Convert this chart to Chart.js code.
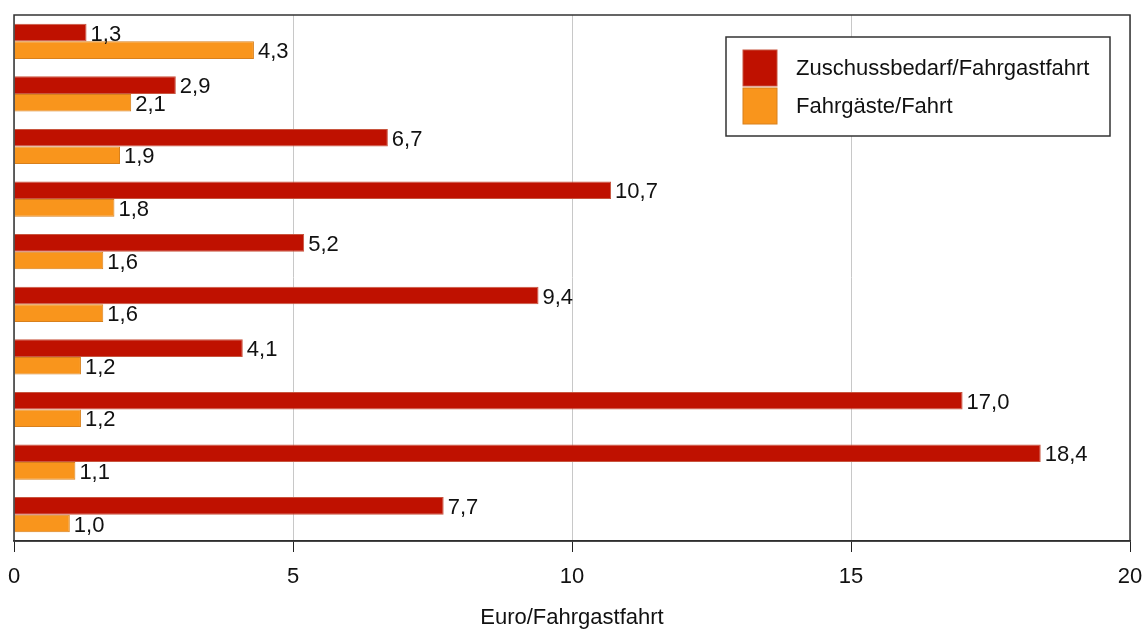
<!DOCTYPE html>
<html>
<head>
<meta charset="utf-8">
<script src="https://cdn.jsdelivr.net/npm/chart.js@4/dist/chart.umd.min.js"></script>
<style>
  html, body { margin: 0; padding: 0; background: #fff; }
  #wrap { width: 1146px; height: 631px; }
</style>
</head>
<body>
<div id="wrap"><canvas id="myChart"></canvas></div>
<script>
var categories = ["1", "2", "3", "4", "5", "6", "7", "8", "9", "10"];
var zuschuss = [1.3, 2.9, 6.7, 10.7, 5.2, 9.4, 4.1, 17.0, 18.4, 7.7];
var fahrgaeste = [4.3, 2.1, 1.9, 1.8, 1.6, 1.6, 1.2, 1.2, 1.1, 1.0];
var xTicks = [0, 5, 10, 15, 20];
var seriesNames = ["Zuschussbedarf/Fahrgastfahrt", "Fahrgäste/Fahrt"];
var barColors = ["#bf1100", "#f9951c"];
var borderColors = ["#c8553f", "#d8801c"];

var FONT = "'Liberation Sans', Arial, sans-serif";

// value labels at the end of each bar
var valueLabels = {
  id: "valueLabels",
  afterDatasetsDraw: function(chart) {
    var ctx = chart.ctx;
    ctx.save();
    ctx.font = "22px " + FONT;
    ctx.fillStyle = "#111";
    ctx.textBaseline = "middle";
    ctx.textAlign = "left";
    chart.data.datasets.forEach(function(ds, i) {
      chart.getDatasetMeta(i).data.forEach(function(bar, j) {
        var txt = ds.data[j].toFixed(1).replace(".", ",");
        ctx.fillText(txt, bar.x + 4, bar.y + 2);
      });
    });
    ctx.restore();
  }
};

// frame round the plot area and boxed legend
var frameAndLegend = {
  id: "frameAndLegend",
  afterDraw: function(chart) {
    var ctx = chart.ctx, a = chart.chartArea;
    ctx.save();
    ctx.strokeStyle = "#333";
    ctx.lineWidth = 1.5;
    ctx.strokeRect(a.left, a.top, a.right - a.left, a.bottom - a.top);

    var w = 384, h = 99;
    var x = a.right - 20 - w, y = a.top + 22;
    ctx.fillStyle = "#fff";
    ctx.fillRect(x, y, w, h);
    ctx.strokeStyle = "#333";
    ctx.lineWidth = 1.5;
    ctx.strokeRect(x, y, w, h);
    ctx.font = "22px " + FONT;
    ctx.textBaseline = "middle";
    chart.data.datasets.forEach(function(ds, i) {
      var sy = y + 13 + i * 38;
      ctx.fillStyle = ds.backgroundColor;
      ctx.fillRect(x + 17, sy, 34, 36);
      ctx.strokeStyle = ds.borderColor;
      ctx.lineWidth = 1;
      ctx.strokeRect(x + 17, sy, 34, 36);
      ctx.fillStyle = "#111";
      ctx.fillText(ds.label, x + 70, sy + 19);
    });
    ctx.restore();
  }
};

new Chart("myChart", {
  type: "bar",
  data: {
    labels: categories,
    datasets: [{
      label: seriesNames[0],
      data: zuschuss,
      backgroundColor: barColors[0],
      borderColor: borderColors[0],
      borderWidth: 1
    }, {
      label: seriesNames[1],
      data: fahrgaeste,
      backgroundColor: barColors[1],
      borderColor: borderColors[1],
      borderWidth: 1
    }]
  },
  options: {
    indexAxis: "y",
    responsive: true,
    maintainAspectRatio: false,
    animation: false,
    categoryPercentage: 0.67,
    barPercentage: 1.0,
    layout: { padding: { left: 14, right: 16, top: 15, bottom: 0 } },
    plugins: {
      legend: { display: false },
      tooltip: { enabled: false }
    },
    scales: {
      x: {
        min: 0,
        max: 20,
        afterBuildTicks: function(axis) {
          axis.ticks = xTicks.map(function(v) { return { value: v }; });
        },
        afterFit: function(axis) {
          // tick labels may hang over the frame; don't shrink the plot for them
          axis.paddingLeft = 0;
          axis.paddingRight = 0;
        },
        grid: {
          color: "#c8c8c8",
          tickColor: "#222",
          tickLength: 11,
          lineWidth: 1
        },
        border: { color: "#222", width: 1.5 },
        ticks: {
          color: "#111",
          padding: 16,
          maxRotation: 0,
          font: { family: FONT, size: 22, lineHeight: 0.8 }
        },
        title: {
          display: true,
          text: "Euro/Fahrgastfahrt",
          color: "#111",
          padding: { top: 3, bottom: 0 },
          font: { family: FONT, size: 22 }
        }
      },
      y: {
        display: false
      }
    }
  },
  plugins: [valueLabels, frameAndLegend]
});
</script>
</body>
</html>
